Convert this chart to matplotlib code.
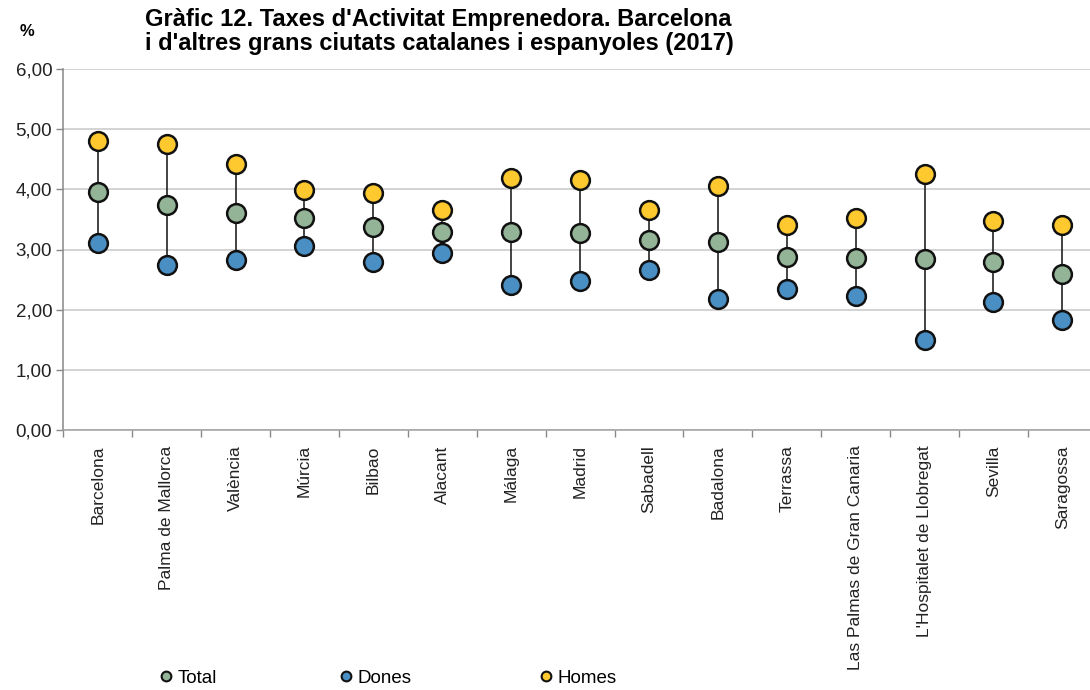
import matplotlib
matplotlib.use("Agg")
import matplotlib.pyplot as plt
import numpy as np
from matplotlib.lines import Line2D

plt.rcParams['font.family'] = ['Liberation Sans', 'DejaVu Sans']

cities = ["Barcelona", "Palma de Mallorca", "València", "Múrcia", "Bilbao", "Alacant",
          "Málaga", "Madrid", "Sabadell", "Badalona", "Terrassa",
          "Las Palmas de Gran Canaria", "L'Hospitalet de Llobregat", "Sevilla", "Saragossa"]
total = [3.96, 3.74, 3.61, 3.52, 3.37, 3.29, 3.29, 3.27, 3.15, 3.12, 2.88, 2.86, 2.84, 2.79, 2.60]
dones = [3.11, 2.74, 2.83, 3.06, 2.79, 2.94, 2.41, 2.48, 2.66, 2.17, 2.35, 2.23, 1.50, 2.13, 1.82]
homes = [4.80, 4.75, 4.42, 3.99, 3.94, 3.66, 4.19, 4.15, 3.66, 4.06, 3.41, 3.52, 4.25, 3.48, 3.40]
yticks = [0, 1, 2, 3, 4, 5, 6]

c_total = "#94b497"
c_dones = "#4a8fc4"
c_homes = "#fdc92f"

W, H = 1090, 690
fig = plt.figure(figsize=(W / 100, H / 100), dpi=100)
ax = fig.add_axes([63.3 / W, 1 - 430 / H, (1096.8 - 63.3) / W, (430 - 69) / H])

x = np.arange(len(cities))
ax.vlines(x, dones, homes, color="#111111", lw=1.1, zorder=2)
ms = 13.5
for vals, c in ((total, c_total), (dones, c_dones), (homes, c_homes)):
    ax.plot(x, vals, 'o', ms=ms, mfc=c, mec="#111111", mew=1.8, zorder=3)

ax.set_xlim(-0.5, len(cities) - 0.5)
ax.set_ylim(0, 6)
ax.set_yticks(yticks)
ax.set_yticklabels([f"{v:.2f}".replace(".", ",") for v in yticks], fontsize=13.5, color="#222222")
ax.grid(axis='y', color="#c8c8c8", lw=1.1)
ax.set_axisbelow(True)

ax.set_xticks(x)
ax.set_xticklabels(cities, rotation=90, fontsize=12.5, color="#222222")
ax.set_xticks(np.arange(-0.5, len(cities)), minor=True)
ax.tick_params(axis='x', which='major', length=0, pad=11)
ax.tick_params(axis='x', which='minor', length=5, color="#888888", width=1)
ax.tick_params(axis='y', length=5, color="#888888", width=1, pad=3)

for s in ["top", "right"]:
    ax.spines[s].set_visible(False)
ax.spines["left"].set_color("#888888")
ax.spines["bottom"].set_color("#a0a0a0")
ax.spines["left"].set_linewidth(1.1)
ax.spines["bottom"].set_linewidth(1.1)

fig.text(145 / W, 1 - 8 / H, "Gràfic 12. Taxes d'Activitat Emprenedora. Barcelona\ni d'altres grans ciutats catalanes i espanyoles (2017)",
         fontsize=17, fontweight='bold', va='top', ha='left', linespacing=1.05)
fig.text(20 / W, 1 - 31 / H, "%", fontsize=12, fontweight='bold', va='center', ha='left')

handles = [Line2D([], [], ls='none', marker='o', ms=7, mfc=c, mec="#111111", mew=1.5)
           for c in (c_total, c_dones, c_homes)]
labels = ["Total", "Dones", "Homes"]
for h, lab, xp in zip(handles, labels, [168, 348, 548]):
    fig.legend([h], [lab], loc='center left', bbox_to_anchor=(xp / W - 0.012, 1 - 678 / H),
               frameon=False, fontsize=13.5, handletextpad=0.0, handlelength=1.2, borderpad=0, borderaxespad=0)

fig.savefig("out.png", dpi=100)
